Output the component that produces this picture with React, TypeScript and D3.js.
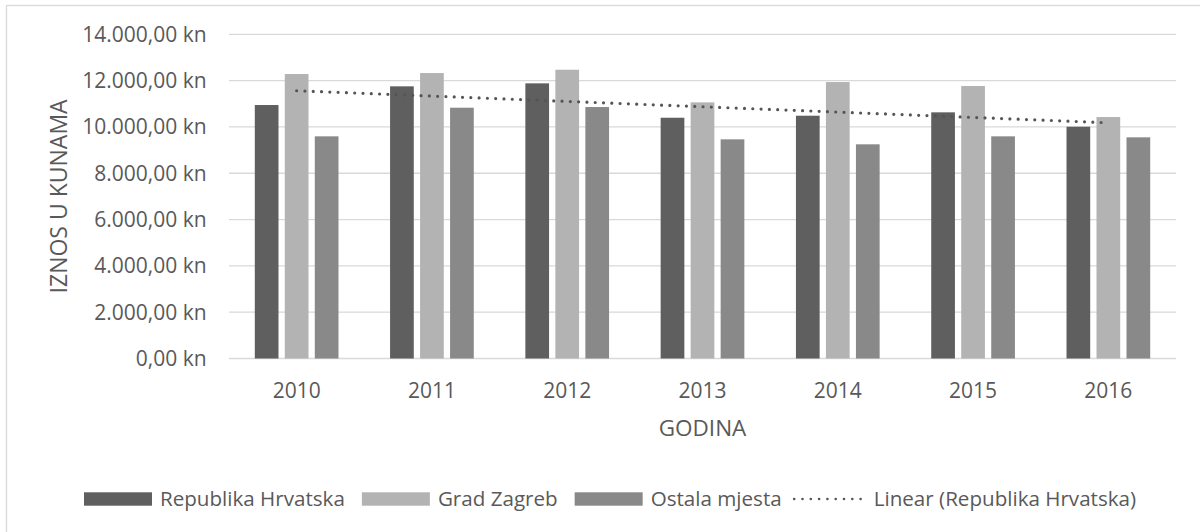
import React, { useEffect, useRef } from "react";
import * as d3 from "d3";

const years = ["2010", "2011", "2012", "2013", "2014", "2015", "2016"];
const seriesNames = ["Republika Hrvatska", "Grad Zagreb", "Ostala mjesta"];
const republikaHrvatska = [10946, 11753, 11882, 10397, 10484, 10630, 10009];
const gradZagreb = [12284, 12327, 12470, 11061, 11938, 11766, 10427];
const ostalaMjesta = [9594, 10830, 10859, 9464, 9249, 9594, 9551];
const yTicks = [0, 2000, 4000, 6000, 8000, 10000, 12000, 14000];
const trendLabel = "Linear (Republika Hrvatska)";
const yTitle = "IZNOS U KUNAMA";
const xTitle = "GODINA";

const colors = ["#5f5f5f", "#b3b3b3", "#898989"];
const textColor = "#595959";
const FONT = "'Open Sans', sans-serif";

const W = 1200;
const H = 532;

function fmt(v: number) {
  const s = d3.format(",.2f")(v);
  return s.replace(/,/g, "#").replace(".", ",").replace(/#/g, ".") + " kn";
}

export default function App() {
  const ref = useRef<SVGSVGElement | null>(null);

  useEffect(() => {
    const svg = d3.select(ref.current);
    svg.selectAll("*").remove();

    const plot = { left: 229, right: 1176, top: 34.3, bottom: 358.5 };
    const x = d3.scaleBand<string>().domain(years).range([plot.left, plot.right]).paddingInner(0).paddingOuter(0);
    const y = d3.scaleLinear().domain([0, 14000]).range([plot.bottom, plot.top]);
    const x1 = d3
      .scaleBand<string>()
      .domain(seriesNames)
      .range([-45, 45])
      .paddingInner(0.21)
      .paddingOuter(0.105);

    svg
      .append("rect")
      .attr("x", 6.5)
      .attr("y", 5.5)
      .attr("width", W + 10)
      .attr("height", H + 10)
      .attr("fill", "#fff")
      .attr("stroke", "#d9d9d9")
      .attr("stroke-width", 1.3);

    svg
      .append("g")
      .selectAll("line")
      .data(yTicks)
      .join("line")
      .attr("x1", plot.left)
      .attr("x2", plot.right)
      .attr("y1", (d) => y(d))
      .attr("y2", (d) => y(d))
      .attr("stroke", "#d9d9d9")
      .attr("stroke-width", 1.3);

    svg
      .append("g")
      .selectAll("text")
      .data(yTicks)
      .join("text")
      .attr("x", 206.7)
      .attr("y", (d) => y(d) + 7.4)
      .attr("text-anchor", "end")
      .attr("font-family", FONT)
      .attr("font-size", 21)
      .attr("fill", textColor)
      .text((d) => fmt(d));

    const allSeries = [republikaHrvatska, gradZagreb, ostalaMjesta];
    allSeries.forEach((vals, si) => {
      svg
        .append("g")
        .selectAll("rect")
        .data(vals)
        .join("rect")
        .attr("x", (_, i) => (x(years[i]) as number) + x.bandwidth() / 2 + (x1(seriesNames[si]) as number))
        .attr("width", x1.bandwidth())
        .attr("y", (d) => y(d))
        .attr("height", (d) => y(0) - y(d))
        .attr("fill", colors[si]);
    });

    // linear trend (least squares) of Republika Hrvatska
    const n = republikaHrvatska.length;
    const xs = d3.range(1, n + 1);
    const mx = d3.mean(xs) as number;
    const my = d3.mean(republikaHrvatska) as number;
    const slope =
      d3.sum(xs.map((xi, i) => (xi - mx) * (republikaHrvatska[i] - my))) /
      d3.sum(xs.map((xi) => (xi - mx) * (xi - mx)));
    const intercept = my - slope * mx;
    const cx = (i: number) => (x(years[i]) as number) + x.bandwidth() / 2;
    svg
      .append("line")
      .attr("x1", cx(0))
      .attr("y1", y(intercept + slope * 1))
      .attr("x2", cx(n - 1))
      .attr("y2", y(intercept + slope * n))
      .attr("stroke", "#555555")
      .attr("stroke-width", 3.2)
      .attr("stroke-linecap", "round")
      .attr("stroke-dasharray", "0 8.3");

    svg
      .append("g")
      .selectAll("text")
      .data(years)
      .join("text")
      .attr("x", (d) => (x(d) as number) + x.bandwidth() / 2)
      .attr("y", 398)
      .attr("text-anchor", "middle")
      .attr("font-family", FONT)
      .attr("font-size", 21)
      .attr("fill", textColor)
      .text((d) => d);

    svg
      .append("text")
      .attr("x", (plot.left + plot.right) / 2)
      .attr("y", 436)
      .attr("text-anchor", "middle")
      .attr("font-family", FONT)
      .attr("font-size", 22.5)
      .attr("fill", textColor)
      .text(xTitle);

    svg
      .append("text")
      .attr("transform", `translate(66.7, ${(plot.top + plot.bottom) / 2}) rotate(-90)`)
      .attr("text-anchor", "middle")
      .attr("font-family", FONT)
      .attr("font-size", 23)
      .attr("fill", textColor)
      .text(yTitle);

    // legend
    const lg = svg.append("g");
    const items = [
      ...seriesNames.map((s, i) => ({ label: s, type: "bar", color: colors[i] })),
      { label: trendLabel, type: "line", color: "#555555" },
    ];
    let cursor = 84;
    items.forEach((it, idx) => {
      const swW = it.type === "bar" ? 68 : 74;
      if (it.type === "bar") {
        lg.append("rect")
          .attr("x", cursor)
          .attr("y", 492.3)
          .attr("width", swW)
          .attr("height", 13.4)
          .attr("fill", it.color);
      } else {
        lg.append("line")
          .attr("x1", cursor + 1.5)
          .attr("x2", cursor + swW)
          .attr("y1", 499)
          .attr("y2", 499)
          .attr("stroke", it.color)
          .attr("stroke-width", 2.6)
          .attr("stroke-linecap", "round")
          .attr("stroke-dasharray", "0 8.3");
      }
      const gap = it.type === "bar" ? 8 : 7;
      const t = lg
        .append("text")
        .attr("x", cursor + swW + gap)
        .attr("y", 506)
        .attr("font-family", FONT)
        .attr("font-size", 20.6)
        .attr("fill", textColor)
        .text(it.label);
      const tw = (t.node() as SVGTextElement).getComputedTextLength();
      const nextIsLine = idx + 1 < items.length && items[idx + 1].type === "line";
      cursor = cursor + swW + gap + tw + (nextIsLine ? 11 : 17);
    });
  }, []);

  return (
    <svg
      ref={ref}
      width={W}
      height={H}
      style={{ position: "absolute", left: 0, top: 0, display: "block" }}
    />
  );
}
